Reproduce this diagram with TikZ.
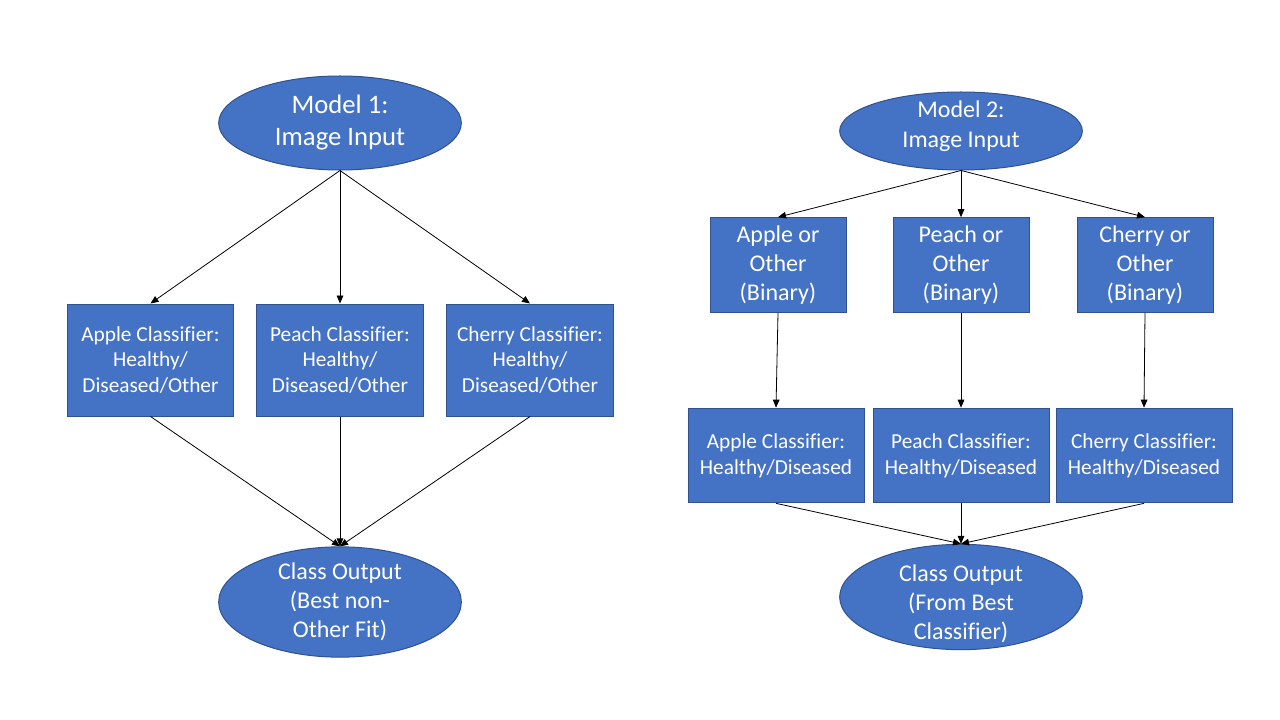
\documentclass[tikz,border=0pt]{standalone}
\usepackage{fontspec}
\setmainfont{Carlito}[Ligatures=CommonOff]
\usepackage{tikz}
\usetikzlibrary
  {
    arrows.meta,              % triangle arrow heads
    shapes.geometric,         % ellipse nodes
  }

\definecolor{boxblue}{HTML}{4472C4}
\definecolor{edgeblue}{HTML}{2F528F}

\tikzset{
  blob/.style = {ellipse, draw=edgeblue, fill=boxblue, text=white,
                 line width=0.75pt, align=center, inner sep=0pt},
  cbox/.style = {rectangle, draw=edgeblue, fill=boxblue, text=white,
                 line width=0.75pt, align=center, inner sep=0pt},
  blobtext/.style = {text=white, align=center, inner sep=0pt,
                     font=\fontsize{18}{22.5}\selectfont},
  link/.style = {-{Triangle[length=6pt,width=5pt]}, line width=0.6pt},
}

\begin{document}
\begin{tikzpicture}[x=0.75pt, y=-0.75pt]
    \useasboundingbox[fill=white] (0,0) rectangle (1280,720);

    % Model 1
    \node [blob, minimum width=182pt, minimum height=70.5pt,
           font=\fontsize{20}{24}\selectfont] (in1) at (340,123)
          {Model 1:\\Image Input};
    \foreach \name/\x/\fruit in {a1/150.5/Apple, p1/340/Peach, c1/530/Cherry}
      \node [cbox, minimum width=125pt, minimum height=84pt,
             font=\fontsize{16}{19}\selectfont] (\name) at (\x,360)
            {\fruit{} Classifier:\\Healthy/\\Diseased/Other};
    \node [blob, minimum width=182pt, minimum height=82.5pt,
           font=\fontsize{18}{21.75}\selectfont] (out1) at (340,602)
          {Class Output\\(Best non-\\Other Fit)};

    \foreach \name in {a1, p1, c1}
      {
        \draw [link] (in1.south) -- (\name.north);
        \draw [link] (\name.south) -- (out1.north);
      }

    % Model 2 (text sits off the centre of its ellipse)
    \node [blob, minimum width=182pt, minimum height=58.5pt,
           label={[blobtext, yshift=3.75pt]center:{Model 2:\\Image Input}}]
          (in2) at (961,131) {};
    \foreach \name/\x/\fruit in {ab/778/Apple, pb/961/Peach, cb/1145/Cherry}
      \node [cbox, minimum width=102pt, minimum height=71pt,
             font=\fontsize{18}{21.75}\selectfont] (\name) at (\x,265)
            {\fruit{} or\\Other\\(Binary)};
    \foreach \name/\x/\fruit in {a2/776/Apple, p2/961/Peach, c2/1144/Cherry}
      \node [cbox, minimum width=132pt, minimum height=71pt,
             font=\fontsize{16}{19.5}\selectfont] (\name) at (\x,455.5)
            {\fruit{} Classifier:\\Healthy/Diseased};
    \node [blob, minimum width=182pt, minimum height=79pt,
           label={[blobtext, font=\fontsize{18}{21.75}\selectfont,
                   yshift=-5pt]center:{Class Output\\(From Best\\Classifier)}}]
          (out2) at (961,597) {};

    \foreach \bin/\cls in {ab/a2, pb/p2, cb/c2}
      {
        \draw [link] (in2.south) -- (\bin.north);
        \draw [link] (\bin.south) -- (\cls.north);
        \draw [link] (\cls.south) -- (out2.north);
      }
\end{tikzpicture}
\end{document}
